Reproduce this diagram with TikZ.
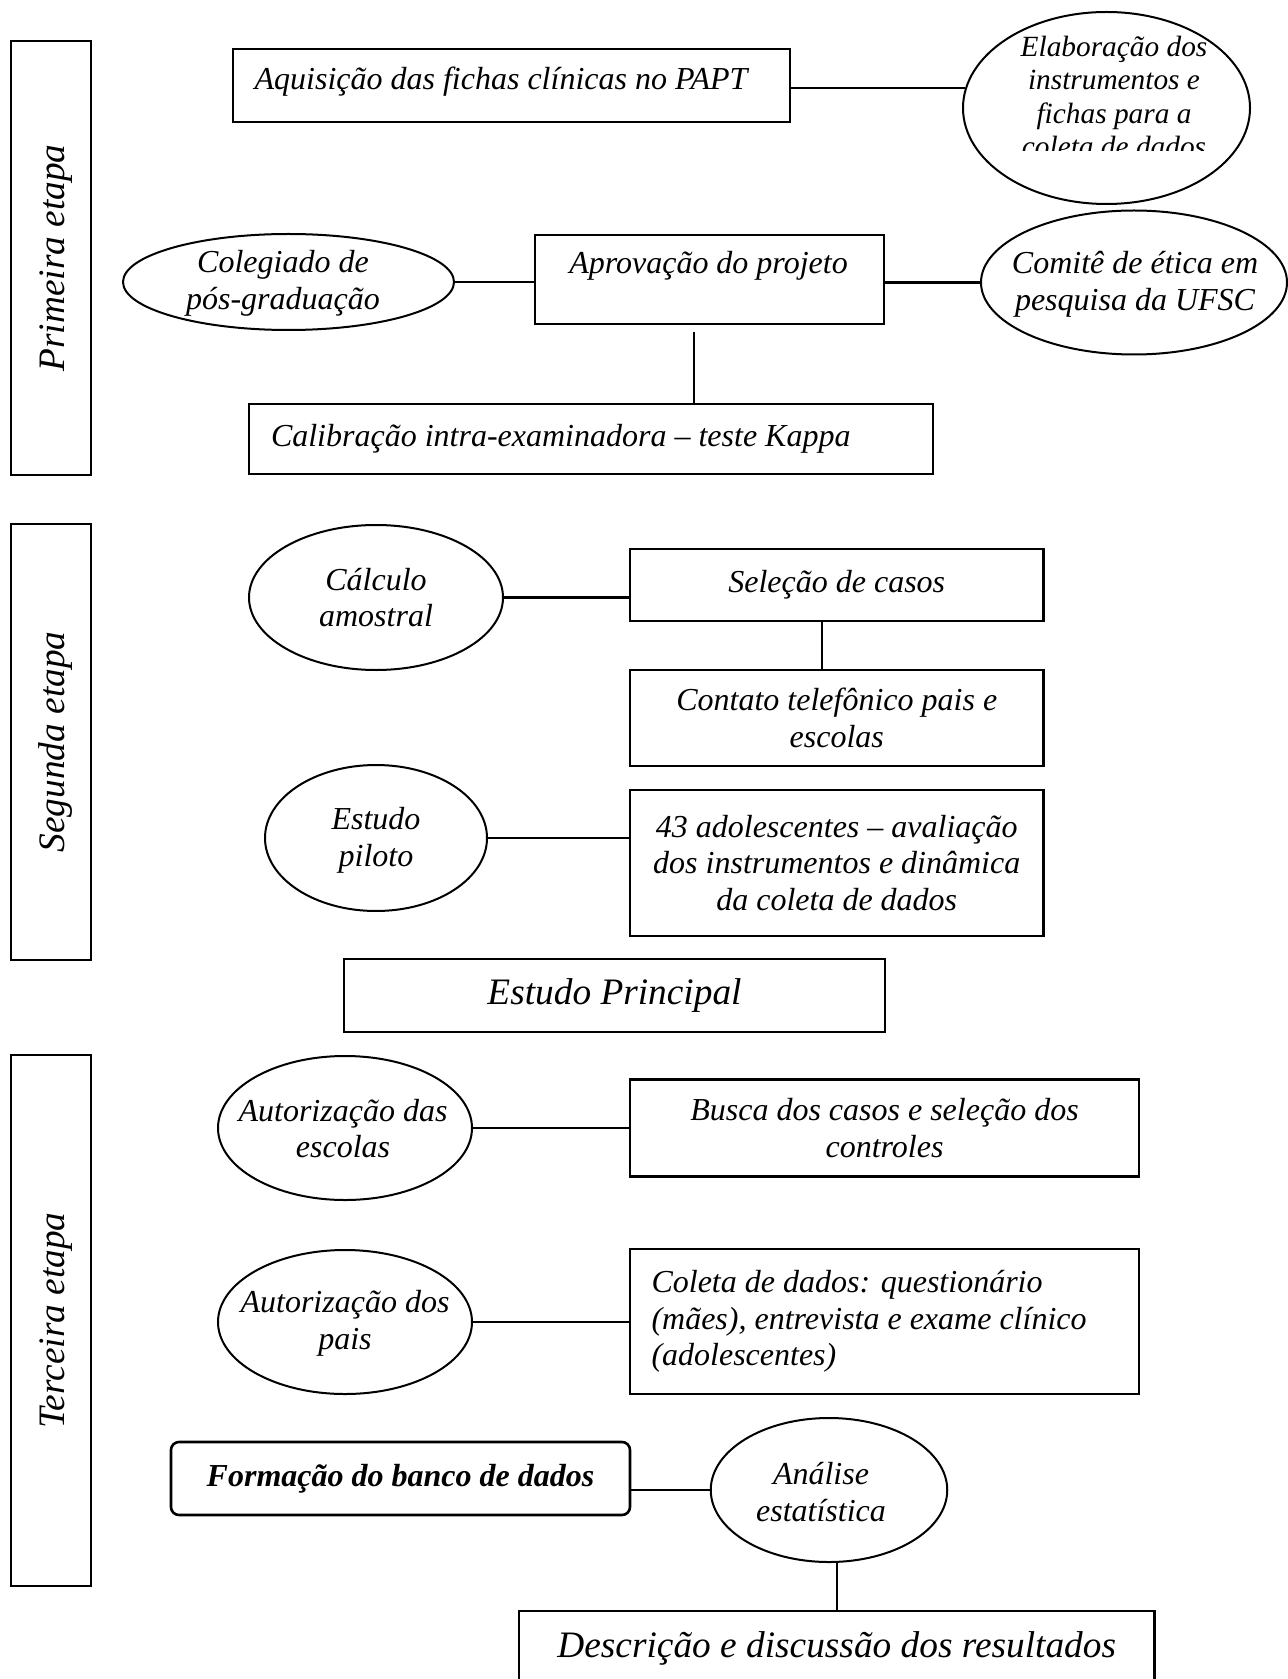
\documentclass[tikz,border=0pt]{standalone}
\usepackage{fontspec}
\setmainfont{Liberation Serif}
\usetikzlibrary{shapes.geometric}

\newcommand\normaltxt{\fontsize{16}{18.35}\selectfont\itshape}
\newcommand\bigtxt{\fontsize{18.67}{21.4}\selectfont\itshape}
\newcommand\smalltxt{\fontsize{14.67}{16.65}\selectfont\itshape}

\tikzset{
  etapa/.style={draw, line width=1.3pt, minimum width=40pt, inner sep=0pt},
  etapatxt/.style={rotate=90, font=\bigtxt, inner sep=0pt},
  caixa/.style={draw, line width=1.3pt, inner sep=0pt, align=center, font=\normaltxt},
  oval/.style={draw, ellipse, line width=1pt, inner sep=0pt},
  txt/.style={align=center, font=\normaltxt, inner sep=0pt},
  liga/.style={line width=1.1pt},
  ligav/.style={line width=0.9pt},
}

\begin{document}
\begin{tikzpicture}[x=0.5pt, y=-0.5pt]
\useasboundingbox (0,0) rectangle (1288,1679);

% stage bars
\node[etapa, minimum height=217pt] (etapa1) at (51,258) {};
\node[etapatxt] (etapa1-t) at (56,258) {Primeira etapa};
\node[etapa, minimum height=218pt] (etapa2) at (51,742) {};
\node[etapatxt] (etapa2-t) at (56,742) {Segunda etapa};
\node[etapa, minimum height=265.5pt] (etapa3) at (51,1320.5) {};
\node[etapatxt] (etapa3-t) at (56,1320.5) {Terceira etapa};

% Primeira etapa
\node[caixa, minimum width=278.5pt, minimum height=36.5pt] (aquis) at (511.5,85.5) {};
\node[txt] (aquis-t) at (501,82) {Aquisição das fichas clínicas no PAPT};
\node[oval, minimum width=143.5pt, minimum height=96pt] (elab) at (1106.5,108) {};
\begin{scope}
  \clip (960,20) rectangle (1262,151);
  \node[txt, font=\smalltxt] (elab-t) at (1114,96.5) {Elaboração dos\\instrumentos e\\fichas para a\\coleta de dados};
\end{scope}
\node[oval, minimum width=165.5pt, minimum height=48pt] (coleg) at (288.5,282) {};
\node[txt] (coleg-t) at (283,283.5) {Colegiado de\\pós-graduação};
\node[caixa, minimum width=174.5pt, minimum height=44.5pt] (aprov) at (709.5,279.5) {};
\node[txt] (aprov-t) at (708.5,266) {Aprovação do projeto};
\node[oval, minimum width=153pt, minimum height=72pt] (comite) at (1134,282.5) {};
\node[txt] (comite-t) at (1135,284) {Comitê de ética em\\pesquisa da UFSC};
\node[caixa, minimum width=342pt, minimum height=35pt, text width=320pt, inner xsep=11pt, align=flush left] (calib) at (591,439) {Calibração intra-examinadora – teste Kappa};

\draw[liga] (aquis.east |- elab.172) -- (elab.172);
\draw[liga] (coleg.east) -- (coleg.east -| aprov.west);
\draw[liga] (comite.west) -- (comite.west -| aprov.east);
\coordinate (aprov-c) at (694,331.7);
\draw[ligav] (aprov-c) -- (aprov-c |- calib.north);

% Segunda etapa
\node[oval, minimum width=127pt, minimum height=72.5pt] (calc) at (376,597.5) {};
\node[txt] (calc-t) at (376,597.5) {Cálculo\\amostral};
\node[caixa, minimum width=206.75pt, minimum height=36pt] (sel) at (836.75,585) {Seleção de casos};
\node[caixa, minimum width=206.75pt, minimum height=48pt] (contato) at (836.75,718) {Contato telefônico pais e\\escolas};
\node[oval, minimum width=111pt, minimum height=73pt] (piloto) at (376,838) {};
\node[txt] (piloto-t) at (376,840) {Estudo\\piloto};
\node[caixa, minimum width=206.75pt, minimum height=73pt] (adol) at (836.75,863) {43 adolescentes – avaliação\\dos instrumentos e dinâmica\\da coleta de dados};
\node[caixa, minimum width=270.5pt, minimum height=36.5pt, font=\bigtxt] (principal) at (614.5,995.5) {Estudo Principal};

\draw[liga] (calc.east) -- (calc.east -| sel.west);
\draw[ligav] ([xshift=-7.4pt]sel.south) -- ([xshift=-7.4pt]contato.north);
\draw[liga] (piloto.east) -- (piloto.east -| adol.west);

% Terceira etapa
\node[oval, minimum width=127pt, minimum height=72pt] (escolas) at (345,1128) {};
\node[txt] (escolas-t) at (343,1128.5) {Autorização das\\escolas};
\node[caixa, minimum width=254.5pt, minimum height=48.5pt] (busca) at (884.5,1128) {Busca dos casos e seleção dos\\controles};
\node[oval, minimum width=127pt, minimum height=72pt] (pais) at (345,1322) {};
\node[txt] (pais-t) at (345,1323) {Autorização dos\\pais};
\node[caixa, minimum width=254.5pt, minimum height=72.5pt, text width=233pt, inner xsep=10.8pt, align=flush left] (coleta) at (884.5,1321.5) {Coleta de dados: questionário\\(mães), entrevista e exame clínico\\(adolescentes)};
\node[caixa, rounded corners=4pt, minimum width=229.5pt, minimum height=36.5pt, font=\normaltxt\bfseries] (formacao) at (400.5,1478.5) {Formação do banco de dados};
\node[oval, minimum width=118.25pt, minimum height=72pt] (analise) at (829,1490) {};
\node[txt] (analise-t) at (821,1492) {Análise\\estatística};
\node[caixa, minimum width=317.75pt, minimum height=37pt, font=\bigtxt] (descr) at (836.75,1648) {Descrição e discussão dos resultados};

\draw[liga] (escolas.east) -- (escolas.east -| busca.west);
\draw[liga] (pais.east) -- (pais.east -| coleta.west);
\draw[liga] (analise.west) -- (analise.west -| formacao.east);
\draw[ligav] (descr.north) -- (descr.north |- analise.south);
\end{tikzpicture}
\end{document}
